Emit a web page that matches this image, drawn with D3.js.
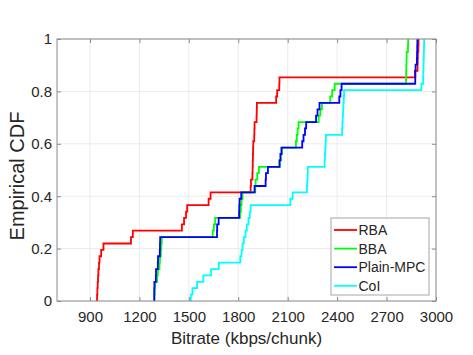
<!DOCTYPE html>
<html>

<head>
    <meta charset="utf-8" />
    <title>Bitrate CDF</title>
    <script src="https://d3js.org/d3.v7.min.js"></script>
    <style>
        body {
            margin: 0;
            background: #fff;
        }

        svg text {
            font-family: "Liberation Sans", Arial, sans-serif;
            fill: #262626;
        }
    </style>
</head>

<body>
    <svg id="chart"></svg>

    <script>
        // per-chunk bitrates (kbps) for each scheme, 41 chunks each
        const rba = [943, 945, 947, 949, 951, 955, 958, 968, 982, 1149, 1160, 1458, 1471, 1483, 1490, 1620, 1632,
            1875, 1877, 1886, 1887, 1888, 1889, 1890, 1891, 1897, 1898, 1899, 1911, 1912, 1913,
            2030, 2036, 2049, 2050, 2872, 2888, 2889, 2890, 2893, 2894];
        const bba = [1292, 1294, 1296, 1308, 1312, 1322, 1325, 1330, 1333, 1336, 1645, 1652, 1660, 1812, 1816, 1820, 1826,
            1903, 1905, 1915, 1925, 2050, 2058, 2066, 2150, 2155, 2160, 2166, 2288, 2298, 2308,
            2358, 2370, 2385, 2818, 2819, 2820, 2821, 2822, 2830, 2831];
        const mpc = [1290, 1290, 1291, 1300, 1301, 1312, 1313, 1324, 1325, 1326, 1671, 1672, 1681, 1805, 1806, 1808, 1818,
            1899, 1966, 1968, 1980, 2051, 2056, 2062, 2188, 2196, 2205, 2212, 2272, 2281, 2293,
            2413, 2420, 2427, 2874, 2875, 2876, 2884, 2885, 2886, 2887];
        const coi = [1512, 1522, 1550, 1588, 1635, 1682, 1812, 1820, 1826, 1834, 1844, 1852, 1862, 1870, 1875,
            2116, 2130, 2217, 2219, 2221, 2222, 2324, 2326, 2328, 2330, 2332,
            2430, 2432, 2434, 2436, 2438, 2440, 2442, 2911, 2922, 2923, 2924, 2925, 2926, 2927, 2928];

        const names = ["RBA", "BBA", "Plain-MPC", "CoI"];
        const colors = ["#ff0000", "#00ff00", "#0000ff", "#00ffff"];
        const samples = [rba, bba, mpc, coi];

        const xTicks = [900, 1200, 1500, 1800, 2100, 2400, 2700, 3000];
        const yTicks = [0, 0.2, 0.4, 0.6, 0.8, 1];

        let width = 473, height = 355;
        let pLeft = 57, pRight = 436, pTop = 39, pBottom = 301;

        let svg = d3.select("#chart")
            .attr("width", width)
            .attr("height", height);

        let x = d3.scaleLinear().domain([700, 3000]).range([pLeft, pRight]);
        let y = d3.scaleLinear().domain([0, 1]).range([pBottom, pTop]);

        // grid
        let grid = svg.append("g").attr("stroke", "#ebebeb").attr("stroke-width", 1);
        grid.selectAll(".gx").data(xTicks).join("line")
            .attr("x1", d => x(d)).attr("x2", d => x(d))
            .attr("y1", pTop).attr("y2", pBottom);
        grid.selectAll(".gy").data(yTicks).join("line")
            .attr("x1", pLeft).attr("x2", pRight)
            .attr("y1", d => y(d)).attr("y2", d => y(d));

        // ecdf curves
        let line = d3.line()
            .x(d => x(d[0]))
            .y(d => y(d[1]))
            .curve(d3.curveStepAfter);

        samples.forEach((s, k) => {
            let v = s.slice().sort((a, b) => a - b);
            let n = v.length;
            let pts = [[v[0], 0]].concat(v.map((d, i) => [d, (i + 1) / n]));
            svg.append("path")
                .datum(pts)
                .attr("d", line)
                .attr("fill", "none")
                .attr("stroke", colors[k])
                .attr("stroke-width", 1.8);
        });

        // axes (ticks pointing inward, box round the plot)
        let axisColor = "#8c8c8c";
        function styleAxis(g) {
            g.select(".domain").remove();
            g.selectAll("line").attr("stroke", axisColor);
            g.selectAll("text").attr("font-size", 15).attr("fill", "#262626");
        }

        svg.append("g")
            .attr("transform", "translate(0," + pBottom + ")")
            .call(d3.axisBottom(x).tickValues(xTicks).tickSizeInner(-4).tickSizeOuter(0).tickPadding(10).tickFormat(d => d))
            .call(styleAxis);
        svg.append("g")
            .attr("transform", "translate(0," + pTop + ")")
            .call(d3.axisTop(x).tickValues(xTicks).tickSizeInner(-4).tickSizeOuter(0).tickFormat(""))
            .call(styleAxis);
        svg.append("g")
            .attr("transform", "translate(" + pLeft + ",0)")
            .call(d3.axisLeft(y).tickValues(yTicks).tickSizeInner(-4).tickSizeOuter(0).tickPadding(5).tickFormat(d => d))
            .call(styleAxis);
        svg.append("g")
            .attr("transform", "translate(" + pRight + ",0)")
            .call(d3.axisRight(y).tickValues(yTicks).tickSizeInner(-4).tickSizeOuter(0).tickFormat(""))
            .call(styleAxis);

        svg.append("rect")
            .attr("x", pLeft).attr("y", pTop)
            .attr("width", pRight - pLeft).attr("height", pBottom - pTop)
            .attr("fill", "none")
            .attr("stroke", axisColor)
            .attr("stroke-width", 1);

        // axis labels
        svg.append("text")
            .attr("x", (pLeft + pRight) / 2)
            .attr("y", 344)
            .attr("text-anchor", "middle")
            .attr("font-size", 17)
            .text("Bitrate (kbps/chunk)");

        svg.append("text")
            .attr("transform", "translate(24,176) rotate(-90)")
            .attr("text-anchor", "middle")
            .attr("font-size", 20)
            .text("Empirical CDF");

        // legend
        let legend = svg.append("g").attr("transform", "translate(331,218)");
        legend.append("rect")
            .attr("width", 98).attr("height", 77)
            .attr("fill", "#fff")
            .attr("stroke", "#a6a6a6");
        names.forEach((name, i) => {
            let yy = 12 + i * 18.6;
            legend.append("line")
                .attr("x1", 3).attr("x2", 26)
                .attr("y1", yy).attr("y2", yy)
                .attr("stroke", colors[i])
                .attr("stroke-width", 1.8);
            legend.append("text")
                .attr("x", 27.5).attr("y", yy)
                .attr("dy", "0.36em")
                .attr("font-size", 14)
                .text(name);
        });
    </script>
</body>

</html>
